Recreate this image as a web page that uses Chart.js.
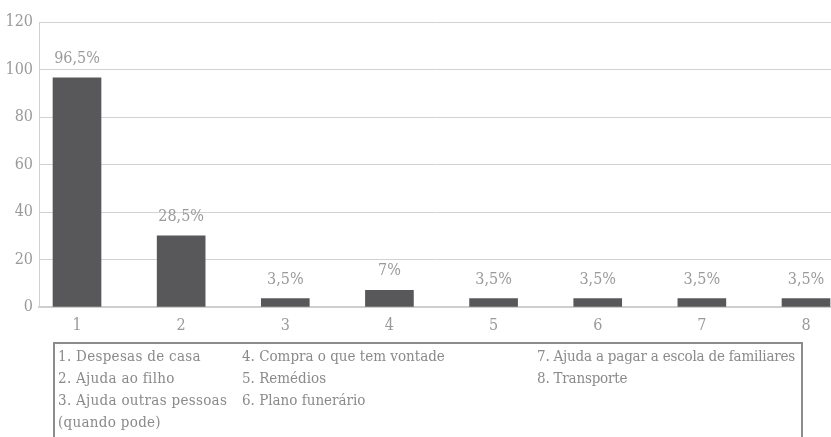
<!DOCTYPE html>
<html>
<head>
<meta charset="utf-8">
<script src="https://cdn.jsdelivr.net/npm/chart.js@4/dist/chart.umd.min.js"></script>
<style>
  html, body { margin: 0; padding: 0; background: #fff; }
  #wrap { position: relative; width: 831px; height: 437px; overflow: hidden; }
  #key {
    position: absolute; left: 53px; top: 342px; width: 746px; height: 120px;
    border: 2px solid #8c8c8c; border-bottom: none;
    font-family: "DejaVu Serif Condensed", "DejaVu Serif", serif; font-size: 15px; color: #8a8a8a;
  }
  #key div { position: absolute; white-space: nowrap; line-height: 22px; }
</style>
</head>
<body>
<div id="wrap">
  <canvas id="myChart" width="831" height="437"></canvas>
  <div id="key"></div>
</div>
<script>
// chart data
const categories = ['1', '2', '3', '4', '5', '6', '7', '8'];
const values = [96.5, 30, 3.5, 7, 3.5, 3.5, 3.5, 3.5];
const valueLabels = ['96,5%', '28,5%', '3,5%', '7%', '3,5%', '3,5%', '3,5%', '3,5%'];
const yTicks = [0, 20, 40, 60, 80, 100, 120];
const keyColumns = [
  ['1. Despesas de casa', '2. Ajuda ao filho', '3. Ajuda outras pessoas', '(quando pode)'],
  ['4. Compra o que tem vontade', '5. Remédios', '6. Plano funerário'],
  ['7. Ajuda a pagar a escola de familiares', '8. Transporte']
];

document.addEventListener('DOMContentLoaded', function () {
  // ===== key box under the chart =====
  const key = document.getElementById('key');
  const colX = [3, 187, 482];
  const colSpacing = ['0.3px', '0px', '-0.2px'];
  keyColumns.forEach((col, c) => {
    col.forEach((txt, r) => {
      const d = document.createElement('div');
      d.textContent = txt;
      d.style.left = colX[c] + 'px';
      d.style.top = (1 + r * 22) + 'px';
      d.style.letterSpacing = colSpacing[c];
      key.appendChild(d);
    });
  });

  // ===== value labels over bars =====
  const barLabels = {
    id: 'barLabels',
    afterDatasetsDraw(chart) {
      const ctx = chart.ctx;
      ctx.save();
      ctx.font = '16px "DejaVu Serif Condensed", "DejaVu Serif"';
      ctx.fillStyle = '#9a9a9a';
      ctx.textAlign = 'center';
      ctx.textBaseline = 'alphabetic';
      chart.getDatasetMeta(0).data.forEach((bar, i) => {
        ctx.fillText(valueLabels[i], bar.x, bar.y - 15);
      });
      ctx.restore();
    }
  };

  const font = { family: '"DejaVu Serif Condensed", "DejaVu Serif"', size: 16 };
  const ctx = document.querySelector('#myChart').getContext('2d');
  new Chart(ctx, {
    type: 'bar',
    data: {
      datasets: [{
        data: values.map((v, i) => ({ x: i + 1, y: v })),
        backgroundColor: '#58585a',
        barThickness: 48
      }]
    },
    options: {
      responsive: false,
      animation: false,
      layout: { padding: { top: 22, right: 0, left: 0, bottom: 0 } },
      plugins: { legend: { display: false }, tooltip: { enabled: false } },
      scales: {
        x: {
          type: 'linear',
          offset: false,
          min: 0.635,
          max: 8.24,
          afterBuildTicks: axis => { axis.ticks = categories.map((c, i) => ({ value: i + 1 })); },
          afterFit: axis => { axis.height = 130; },
          ticks: {
            callback: v => categories[v - 1],
            color: '#9a9a9a', font: font, padding: 1, maxRotation: 0, autoSkip: false
          },
          grid: { display: false },
          border: { color: '#cfcfcf', width: 2 }
        },
        y: {
          min: 0,
          max: 120,
          afterBuildTicks: axis => { axis.ticks = yTicks.map(v => ({ value: v })); },
          afterFit: axis => { axis.width = 39; },
          ticks: { color: '#9a9a9a', font: font, padding: 6 },
          grid: { color: '#d2d2d2', drawTicks: false },
          border: { color: '#d2d2d2' }
        }
      }
    },
    plugins: [barLabels]
  });
});
</script>
</body>
</html>
